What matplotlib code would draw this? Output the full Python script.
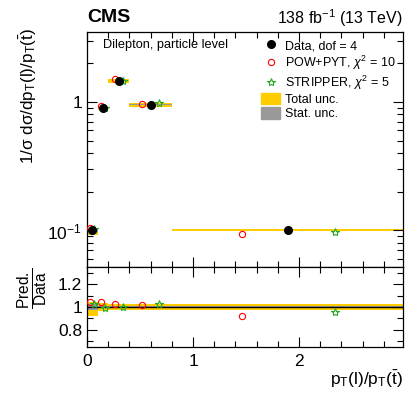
import matplotlib
matplotlib.use("Agg")
import matplotlib.pyplot as plt
import numpy as np
from matplotlib.lines import Line2D
from matplotlib.patches import Patch
from matplotlib.ticker import MultipleLocator, FixedLocator, NullFormatter

plt.rcParams['font.family'] = ['Liberation Sans', 'DejaVu Sans']
plt.rcParams['mathtext.fontset'] = 'custom'
plt.rcParams['mathtext.rm'] = 'Liberation Sans'
plt.rcParams['mathtext.it'] = 'Liberation Sans:italic'
plt.rcParams['mathtext.bf'] = 'Liberation Sans:bold'

# binning and values
bin_edges = [0.0, 0.1, 0.2, 0.4, 0.8, 3.0]
data_vals = [0.100, 0.90, 1.46, 0.95, 0.101]
pow_ratio = [1.04, 1.04, 1.03, 1.02, 0.925]
strip_ratio = [1.03, 0.99, 1.00, 1.03, 0.96]
tot_unc_lo = [0.08, 0.035, 0.03, 0.03, 0.025]
tot_unc_hi = [0.04, 0.035, 0.03, 0.03, 0.025]
stat_unc = [0.025, 0.006, 0.005, 0.006, 0.007]

edges = np.array(bin_edges)
centers = 0.5 * (edges[:-1] + edges[1:])
widths = edges[1:] - edges[:-1]
data = np.array(data_vals)
x_pow = centers - 0.2 * widths
x_strip = centers + 0.2 * widths

W, H = 407, 394
fig = plt.figure(figsize=(W / 100, H / 100), dpi=100)
L, R = 87 / W, 403 / W
ax = fig.add_axes([L, 1 - 267 / H, R - L, (267 - 32) / H])
axr = fig.add_axes([L, 1 - 347 / H, R - L, (347 - 267) / H])

yellow = '#ffcc00'
gray = '#999999'
green = '#22aa22'


def bands(a, center, lo, hi, st):
    for i in range(len(center)):
        a.fill_between([edges[i], edges[i + 1]], center[i] * (1 - lo[i]), center[i] * (1 + hi[i]),
                       color=yellow, lw=0, zorder=1)
        a.fill_between([edges[i], edges[i + 1]], center[i] * (1 - st[i]), center[i] * (1 + st[i]),
                       color=gray, lw=0, zorder=2)


bands(ax, data, tot_unc_lo, tot_unc_hi, stat_unc)
ax.plot(x_pow, data * np.array(pow_ratio), 'o', mfc='none', mec='red', ms=4.5, mew=0.8, zorder=4)
ax.plot(x_strip, data * np.array(strip_ratio), '*', mfc='none', mec=green, ms=6, mew=0.8, zorder=4)
ax.plot(centers, data, 'o', color='black', ms=5.5, zorder=5)

ax.set_yscale('log')
xmax = 2.98
ax.set_xlim(0, xmax)
ax.set_ylim(0.052, 3.5)
ax.yaxis.set_major_locator(FixedLocator([0.1, 1]))
ax.set_yticklabels(['$10^{-1}$', '1'])
ax.xaxis.set_major_locator(MultipleLocator(1))
ax.xaxis.set_minor_locator(MultipleLocator(0.2))
ax.xaxis.set_major_formatter(NullFormatter())

bands(axr, np.ones(len(data)), tot_unc_lo, tot_unc_hi, stat_unc)
axr.axhline(1, color='black', lw=1, zorder=3)
axr.plot(x_pow, pow_ratio, 'o', mfc='none', mec='red', ms=4.5, mew=0.8, zorder=4)
axr.plot(x_strip, strip_ratio, '*', mfc='none', mec=green, ms=6, mew=0.8, zorder=4)
axr.set_xlim(0, xmax)
axr.set_ylim(0.65, 1.35)
axr.yaxis.set_major_locator(FixedLocator([0.8, 1.0, 1.2]))
axr.set_yticklabels(['0.8', '1', '1.2'])
axr.yaxis.set_minor_locator(MultipleLocator(0.1))
axr.xaxis.set_major_locator(MultipleLocator(1))
axr.xaxis.set_minor_locator(MultipleLocator(0.2))

for a in (ax, axr):
    a.tick_params(which='both', direction='in', top=True, right=True, labelsize=12.5)
    a.tick_params(which='major', length=7, width=0.8)
    a.tick_params(which='minor', length=4, width=0.8)
    for s in a.spines.values():
        s.set_linewidth(0.9)
axr.tick_params(axis='x', pad=5)

fig.text(L, 1 - 18 / H, 'CMS', fontsize=14, fontweight='bold', va='center', ha='left')
fig.text(R, 1 - 18 / H, '138 fb$^{-1}$ (13 TeV)', fontsize=11.5, va='center', ha='right')
ax.text(0.05, 0.945, 'Dilepton, particle level', transform=ax.transAxes, fontsize=9.2, va='center')

handles = [
    Line2D([], [], ls='none', marker='o', color='black', ms=5.5),
    Line2D([], [], ls='none', marker='o', mfc='none', mec='red', ms=4.5, mew=0.8),
    Line2D([], [], ls='none', marker='*', mfc='none', mec=green, ms=6, mew=0.8),
    Patch(color=yellow),
    Patch(color=gray),
]
labels = ['Data, dof = 4', 'POW+PYT, $\\chi^2$ = 10', 'STRIPPER, $\\chi^2$ = 5', 'Total unc.', 'Stat. unc.']
fig.legend(handles, labels, loc='upper left', bbox_to_anchor=(255 / W, 1 - 33 / H), frameon=False,
           fontsize=9, handlelength=1.5, handleheight=1.0, handletextpad=0.4, labelspacing=0.12,
           borderpad=0)

fig.text(28 / W, 1 - 28 / H, '1/σ dσ/dp$_\\mathrm{T}$(l)/p$_\\mathrm{T}$($\\bar{\\mathrm{t}}$)', rotation=90,
         fontsize=12.3, ha='center', va='top')
fig.text(33 / W, 1 - 288 / H, '$\\frac{\\mathrm{Pred.}}{\\mathrm{Data}}$', rotation=90,
         fontsize=16, ha='center', va='center')
fig.text(R, 1 - 379 / H, 'p$_\\mathrm{T}$(l)/p$_\\mathrm{T}$($\\bar{\\mathrm{t}}$)', fontsize=12.5,
         ha='right', va='center')

fig.savefig('out.png', dpi=100)
